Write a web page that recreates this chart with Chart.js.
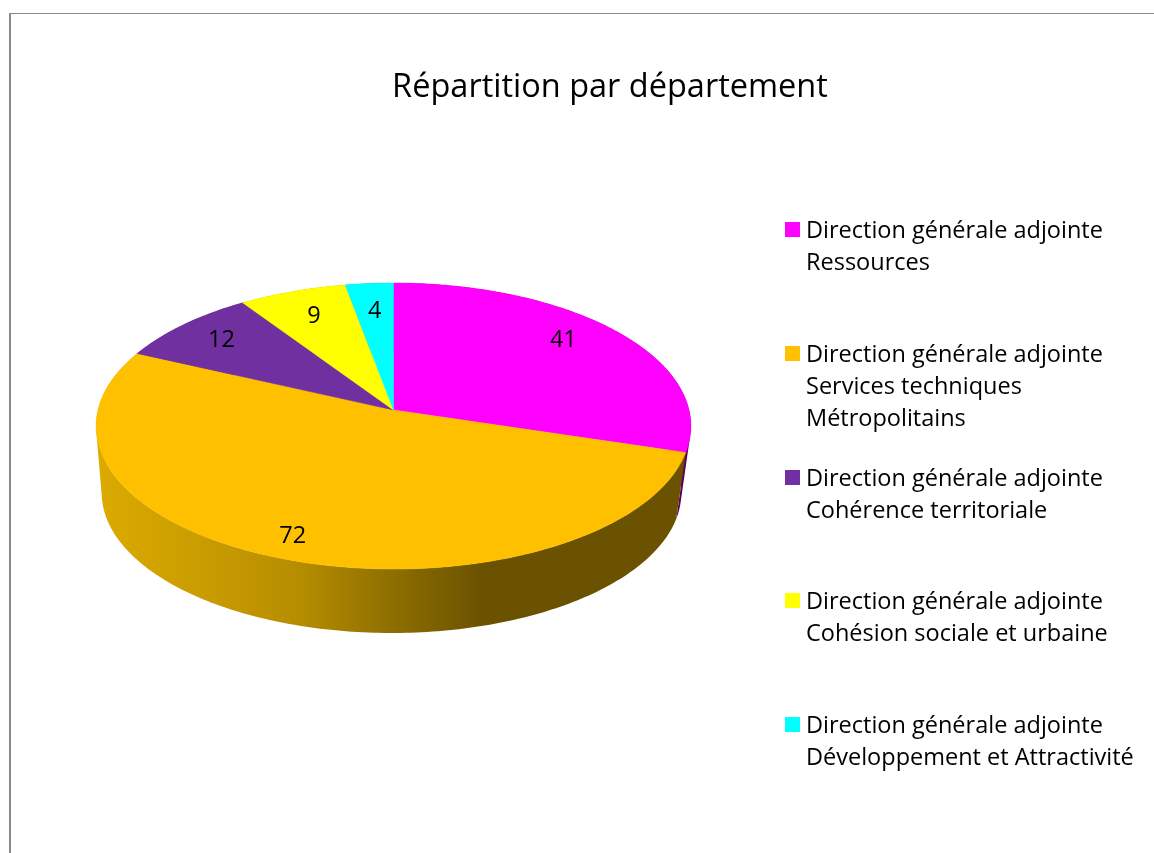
<!DOCTYPE html>
<html lang="fr">
<head>
<meta charset="utf-8">
<title>Répartition par département</title>
<script src="https://cdn.jsdelivr.net/npm/chart.js@4"></script>
<style>
  html, body { margin: 0; padding: 0; background: #fff; overflow: hidden; }
  #page { position: relative; width: 1154px; height: 853px; font-family: "Open Sans", sans-serif; color: #000; }
  #frame { position: absolute; left: 9px; top: 13px; right: 0; bottom: 0; border-left: 2px solid #8a8a8a; border-top: 1px solid #8a8a8a; }
  canvas { position: absolute; left: 0; top: 0; }
  .legend-item { position: absolute; left: 806px; font-size: 23.5px; line-height: 32px; white-space: nowrap; }
  .legend-item i { position: absolute; left: -21px; top: 9px; width: 15px; height: 15px; }
</style>
</head>
<body>
<div id="page">
  <div id="frame"></div>
  <canvas id="chart" width="1154" height="853"></canvas>
</div>
<script>
const chartTitle = "Répartition par département";
const categories = [
  ["Direction générale adjointe", "Ressources"],
  ["Direction générale adjointe", "Services techniques", "Métropolitains"],
  ["Direction générale adjointe", "Cohérence territoriale"],
  ["Direction générale adjointe", "Cohésion sociale et urbaine"],
  ["Direction générale adjointe", "Développement et Attractivité"]
];
const values = [41, 72, 12, 9, 4];
const colors = ["#ff00ff", "#ffc000", "#7030a0", "#ffff00", "#00ffff"];
const sideColors = ["#5c005c", null, "#3c1a56", "#8a8a00", "#008a8a"];

// where the value label sits in each slice: along the radius, and turned off the middle (degrees)
const labelRadius = [0.8, 0.87, 0.81, 0.77, 0.76];
const labelTurn = [-4, 0, 0, 0, 0];

// perspective of the disc, top face and bottom face
const tilt = -0.112;
const topFace = { cx: 393.5, cy: 410, rx: 295.5, ry: 141.2 };
const bottomFace = { cx: 391.5, cy: 477, rx: 288, ry: 138.5 };

function project(face, theta, r) {
  const x = r * Math.sin(theta);
  const y = -r * Math.cos(theta);
  const w = 1 + tilt * y;
  return { x: face.cx + face.rx * x / w, y: face.cy + face.ry * y / w };
}

function rimPoints(face, from, to) {
  const points = [];
  const steps = Math.max(2, Math.ceil((to - from) * 60));
  for (let i = 0; i <= steps; i++) {
    points.push(project(face, from + (to - from) * i / steps, 1));
  }
  return points;
}

// side wall as one path of small quads, all wound the same way so the folds at the edges stay filled
function traceWall(ctx, from, to) {
  const upper = rimPoints(topFace, from, to);
  const lower = rimPoints(bottomFace, from, to);
  for (let i = 0; i < upper.length - 1; i++) {
    let quad = [upper[i], upper[i + 1], lower[i + 1], lower[i]];
    let area = 0;
    quad.forEach((p, j) => {
      const q = quad[(j + 1) % 4];
      area += p.x * q.y - q.x * p.y;
    });
    if (area < 0) quad = quad.reverse();
    quad.forEach((p, j) => (j === 0 ? ctx.moveTo(p.x, p.y) : ctx.lineTo(p.x, p.y)));
    ctx.closePath();
  }
}

const pie3d = {
  id: "pie3d",
  beforeDatasetsDraw(chart) {
    const ctx = chart.ctx;
    const arcs = chart.getDatasetMeta(0).data;
    // chart.js starts at -90deg, here theta is measured from the top
    const angles = arcs.map(a => [a.startAngle + Math.PI / 2, a.endAngle + Math.PI / 2]);

    const sideGradient = ctx.createLinearGradient(96, 0, 691, 0);
    sideGradient.addColorStop(0, "#dcab00");
    sideGradient.addColorStop(0.18, "#c99c00");
    sideGradient.addColorStop(0.35, "#b48c00");
    sideGradient.addColorStop(0.5, "#8d6e00");
    sideGradient.addColorStop(0.65, "#6a5200");
    sideGradient.addColorStop(1, "#6a5200");

    ctx.save();

    // side wall
    arcs.forEach((arc, i) => {
      ctx.beginPath();
      traceWall(ctx, angles[i][0], angles[i][1]);
      ctx.fillStyle = sideColors[i] || sideGradient;
      ctx.fill();
    });

    // top face
    arcs.forEach((arc, i) => {
      const apex = project(topFace, 0, 0);
      ctx.beginPath();
      ctx.moveTo(apex.x, apex.y);
      rimPoints(topFace, angles[i][0], angles[i][1]).forEach(p => ctx.lineTo(p.x, p.y));
      ctx.closePath();
      ctx.fillStyle = colors[i];
      ctx.strokeStyle = colors[i];
      ctx.lineWidth = 0.5;
      ctx.fill();
      ctx.stroke();
    });

    // value labels
    ctx.fillStyle = "#000";
    ctx.font = "23.5px 'Open Sans', sans-serif";
    ctx.textAlign = "center";
    ctx.textBaseline = "middle";
    arcs.forEach((arc, i) => {
      const mid = (angles[i][0] + angles[i][1]) / 2 + labelTurn[i] * Math.PI / 180;
      const p = project(topFace, mid, labelRadius[i]);
      ctx.fillText(String(values[i]), p.x, p.y);
    });

    ctx.restore();
    return false;
  }
};

new Chart(document.getElementById("chart"), {
  type: "pie",
  data: {
    labels: categories.map(c => c.join(" ")),
    datasets: [{ data: values, backgroundColor: colors, borderWidth: 0 }]
  },
  options: {
    responsive: false,
    animation: false,
    events: [],
    layout: { padding: { left: 66, top: 68 } },
    plugins: {
      legend: { display: false },
      tooltip: { enabled: false },
      title: {
        display: true,
        text: chartTitle,
        fullSize: false,
        color: "#000",
        font: { family: "'Open Sans', sans-serif", size: 32.5, weight: "normal" },
        padding: 0
      }
    }
  },
  plugins: [pie3d]
});

// legend
const page = document.getElementById("page");
categories.forEach((lines, i) => {
  const item = document.createElement("div");
  item.className = "legend-item";
  item.style.top = (213 + i * 123.75) + "px";
  const swatch = document.createElement("i");
  swatch.style.background = colors[i];
  item.appendChild(swatch);
  lines.forEach(line => {
    const row = document.createElement("div");
    row.textContent = line;
    item.appendChild(row);
  });
  page.appendChild(item);
});
</script>
</body>
</html>
